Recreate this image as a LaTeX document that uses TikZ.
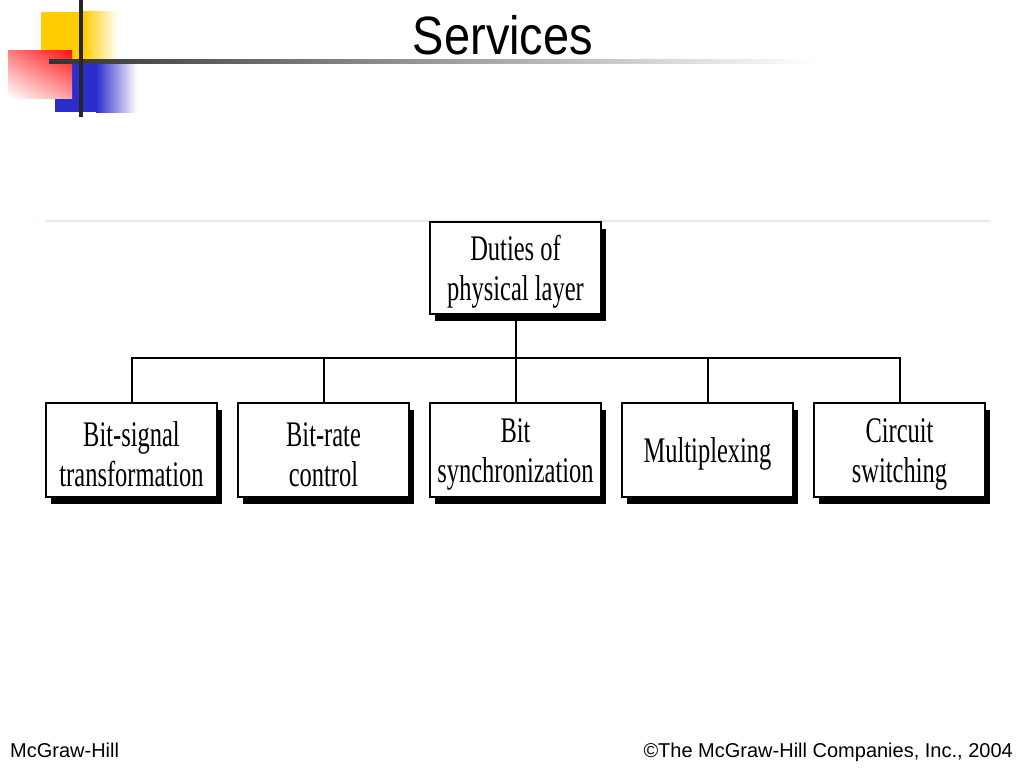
\documentclass[tikz,border=0pt]{standalone}
\usepackage{fontspec}
\setmainfont{Liberation Serif}
\newfontfamily\boxfont[FakeStretch=0.68]{Liberation Serif}
\newfontfamily\titlefont[FakeStretch=0.87]{Liberation Sans}
\newfontfamily\footfont{Liberation Sans}
\usetikzlibrary{shadows,shadings}
\definecolor{logoyellow}{RGB}{255,204,0}
\definecolor{logored}{RGB}{255,20,20}
\definecolor{logoblue}{RGB}{45,45,205}
\definecolor{rulecyan}{RGB}{222,236,236}
\newcommand{\dutystrut}{\rule{0pt}{33pt}}
\begin{document}
\begin{tikzpicture}[x=1pt,y=-1pt,
    duty/.style={draw,line width=2pt,fill=white,inner sep=0pt,
      minimum width=171pt,minimum height=94pt,align=center,
      font=\boxfont\fontsize{36}{40}\selectfont,
      drop shadow={shadow xshift=5pt,shadow yshift=-7pt,opacity=1,fill=black}},
    link/.style={line width=2pt}]
	\useasboundingbox (0,0) rectangle (1024,768);
	% logo
	\fill[logoyellow] (41,12) rectangle (83,62);
	\shade[left color=logoyellow,right color=white] (83,12) rectangle (118,62);
	\fill[logoblue] (55,62) rectangle (96,112);
	\shade[left color=logoblue,right color=white] (96,62) rectangle (137,112);
	\shade[upper left=logored!55,upper right=logored,lower left=white,lower right=logored!40] (8,51) rectangle (72,98);
	\shade[left color=black!80,right color=white] (49,59) rectangle (815,63);
	\draw[line width=4pt,black!85] (81,0) -- (81,117);
	\node[inner sep=0pt,font=\titlefont\fontsize{54}{60}\selectfont] (title) at (503,35) {Services};
	\draw[rulecyan,line width=1.5pt] (45,221) -- (990,221);
	% tree
	\node[duty,minimum height=92pt] (duties) at (515.5,268) {\dutystrut Duties of\\physical layer};
	\foreach \i/\txt in {1/{Bit-signal\\transformation},2/{Bit-rate\\control},3/{Bit\\synchronization},4/{Multiplexing},5/{Circuit\\switching}}{
			\node[duty] (b\i) at ({131.5+192*(\i-1)},450) {\dutystrut\txt};
		}
	\coordinate (bus) at (515.5,358);
	\draw[link] (duties.south) -- (bus);
	\foreach \i in {1,...,5}{
			\draw[link] (b\i.north) |- (bus);
		}
	% footer
	\node[inner sep=0pt,anchor=base west,font=\footfont\fontsize{20}{24}\selectfont] (publisher) at (10,757) {McGraw-Hill};
	\node[inner sep=0pt,anchor=base east,font=\footfont\fontsize{20}{24}\selectfont] (copyright) at (1013,757) {©The McGraw-Hill Companies, Inc., 2004};
\end{tikzpicture}
\end{document}
